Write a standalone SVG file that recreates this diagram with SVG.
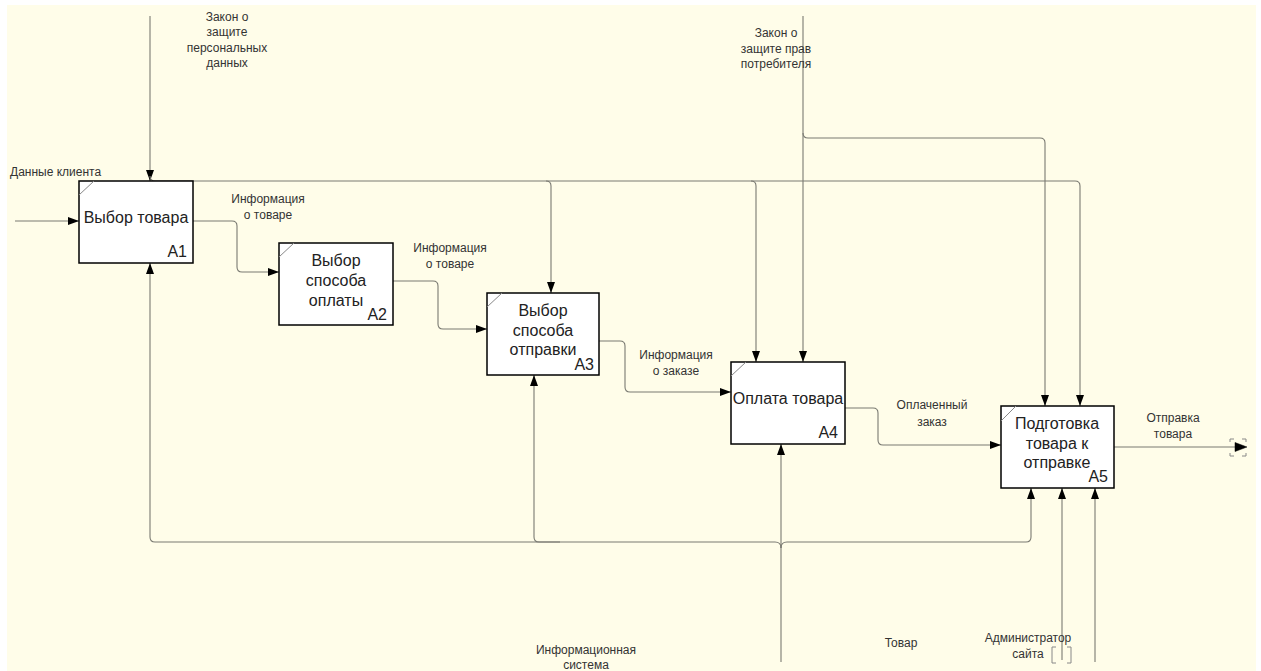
<svg xmlns="http://www.w3.org/2000/svg" width="1261" height="671" viewBox="0 0 1261 671">
<defs>
<marker id="arr" markerWidth="11" markerHeight="8" refX="11" refY="4" orient="auto" markerUnits="userSpaceOnUse">
<path d="M0,0 L11,4 L0,8 z" fill="#000"/>
</marker>
<style>
.bg{fill:#FFFDE9}
.box{fill:#fff;stroke:#000;stroke-width:1.5}
.tick{stroke:#888;stroke-width:1;fill:none}
.c{fill:none;stroke:#7a7a72;stroke-width:1.1}
.a{marker-end:url(#arr)}
.lbl{font-family:"Liberation Sans",Arial,sans-serif;font-size:12px;fill:#333;text-anchor:middle}
.bt{font-family:"Liberation Sans",Arial,sans-serif;font-size:16px;fill:#222;text-anchor:middle}
.num{font-family:"Liberation Sans",Arial,sans-serif;font-size:16px;fill:#222;text-anchor:end}
</style>
</defs>
<rect x="0" y="0" width="1261" height="671" fill="#fff"/>
<rect class="bg" x="7" y="5" width="1249" height="666"/>

<g id="connectors">
<path class="c a" d="M15,221 H79"/>
<path class="c a" d="M150,16 V181"/>
<path class="c a" d="M150,176 Q150,181 155,181 H1075 Q1080,181 1080,186 V406"/>
<path class="c a" d="M546,181 Q551,181 551,186 V293"/>
<path class="c a" d="M751,181 Q756,181 756,186 V362"/>
<path class="c a" d="M803,16 V362"/>
<path class="c a" d="M803,133 Q803,138 808,138 H1040 Q1045,138 1045,143 V406"/>
<path class="c a" d="M193,221 H232 Q237,221 237,226 V267 Q237,272 242,272 H279"/>
<path class="c a" d="M393,281 H433 Q438,281 438,286 V324 Q438,329 443,329 H487"/>
<path class="c a" d="M599,341 H620 Q625,341 625,346 V387 Q625,392 630,392 H731"/>
<path class="c a" d="M845,408 H873 Q878,408 878,413 V440 Q878,445 883,445 H1001"/>
<path class="tick" d="M1234,439 H1230 V442 M1230,453 V456 H1234 M1242,439 H1246 V442 M1246,453 V456 H1242"/>
<path class="c" d="M1114,447 H1236"/>
<polygon points="1235,442.5 1247,447 1235,451.5" fill="#000" stroke="#000" stroke-width="0.5"/>
<path class="c a" d="M781,662 V444"/>
<path class="c a" d="M781,548 Q781,542 775,542 H155 Q150,542 150,537 V263"/>
<path class="c a" d="M560,542 H539 Q534,542 534,537 V375"/>
<path class="c a" d="M781,548 Q781,542 787,542 H1026 Q1031,542 1031,537 V488"/>
<path class="c a" d="M1062,660 V488"/>
<path class="c a" d="M1095,662 V488"/>
<path class="tick" d="M1056,647 H1052 V663 H1056 M1067,647 H1071 V663 H1067"/>
</g>

<g id="A1">
<rect class="box" x="79" y="181" width="114" height="82"/>
<path class="tick" d="M79,195 L94,181"/>
<text class="bt" x="136" y="223">Выбор товара</text>
<text class="num" x="187" y="257">A1</text>
</g>
<g id="A2">
<rect class="box" x="279" y="243" width="114" height="82"/>
<path class="tick" d="M279,257 L294,243"/>
<text class="bt" x="336" y="266">Выбор</text>
<text class="bt" x="336" y="286">способа</text>
<text class="bt" x="336" y="306">оплаты</text>
<text class="num" x="387" y="320">A2</text>
</g>
<g id="A3">
<rect class="box" x="487" y="293" width="112" height="82"/>
<path class="tick" d="M487,307 L502,293"/>
<text class="bt" x="543" y="316">Выбор</text>
<text class="bt" x="543" y="336">способа</text>
<text class="bt" x="543" y="355">отправки</text>
<text class="num" x="594" y="370">A3</text>
</g>
<g id="A4">
<rect class="box" x="731" y="362" width="114" height="82"/>
<path class="tick" d="M731,376 L746,362"/>
<text class="bt" x="788" y="404">Оплата товара</text>
<text class="num" x="838" y="438">A4</text>
</g>
<g id="A5">
<rect class="box" x="1001" y="406" width="113" height="82"/>
<path class="tick" d="M1001,421 L1016,406"/>
<text class="bt" x="1057" y="429">Подготовка</text>
<text class="bt" x="1057" y="449">товара к</text>
<text class="bt" x="1057" y="468">отправке</text>
<text class="num" x="1108" y="482">A5</text>
</g>

<g id="labels">
<text class="lbl" x="10" y="176" style="text-anchor:start">Данные клиента</text>
<text class="lbl" x="227" y="21">Закон о</text>
<text class="lbl" x="227" y="36">защите</text>
<text class="lbl" x="227" y="52">персональных</text>
<text class="lbl" x="227" y="67">данных</text>
<text class="lbl" x="776" y="37">Закон о</text>
<text class="lbl" x="776" y="53">защите прав</text>
<text class="lbl" x="776" y="68">потребителя</text>
<text class="lbl" x="268" y="203">Информация</text>
<text class="lbl" x="268" y="219">о товаре</text>
<text class="lbl" x="450" y="252">Информация</text>
<text class="lbl" x="450" y="268">о товаре</text>
<text class="lbl" x="676" y="359">Информация</text>
<text class="lbl" x="676" y="375">о заказе</text>
<text class="lbl" x="932" y="409">Оплаченный</text>
<text class="lbl" x="932" y="426">заказ</text>
<text class="lbl" x="1173" y="422">Отправка</text>
<text class="lbl" x="1173" y="438">товара</text>
<text class="lbl" x="586" y="654">Информационная</text>
<text class="lbl" x="586" y="669">система</text>
<text class="lbl" x="901" y="647">Товар</text>
<text class="lbl" x="1028" y="642">Администратор</text>
<text class="lbl" x="1028" y="658">сайта</text>
</g>
</svg>
